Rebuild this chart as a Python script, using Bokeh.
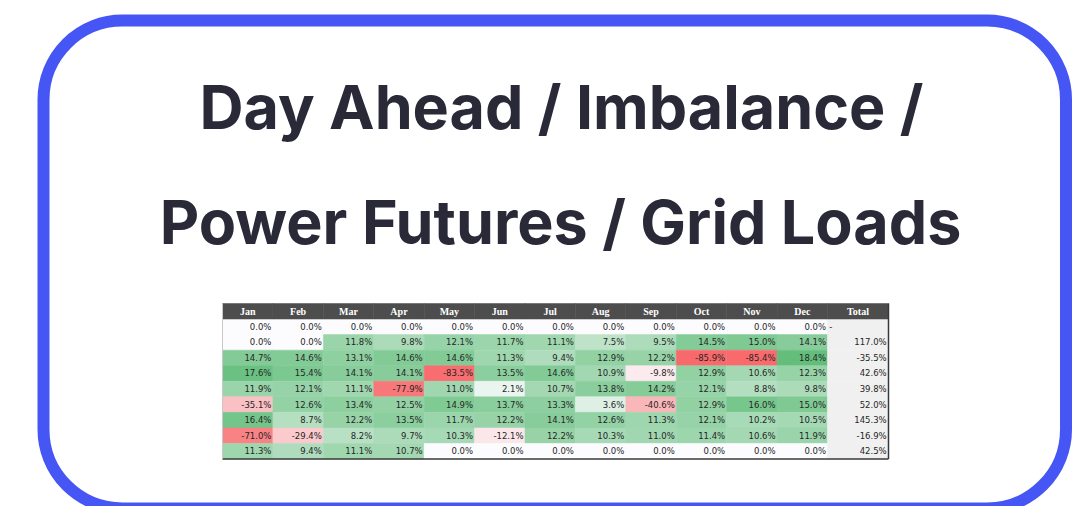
from bokeh.plotting import figure
from bokeh.models import Range1d, ColumnDataSource, BoxAnnotation
from bokeh.core.properties import value
from bokeh.embed import file_html
from bokeh.resources import INLINE

# ---------------- data ----------------
title_lines = ["Day Ahead / Imbalance /", "Power Futures / Grid Loads"]
months = ["Jan", "Feb", "Mar", "Apr", "May", "Jun", "Jul", "Aug", "Sep", "Oct", "Nov", "Dec"]
total_label = "Total"

r1 = [0.0, 0.0, 0.0, 0.0, 0.0, 0.0, 0.0, 0.0, 0.0, 0.0, 0.0, 0.0]
r2 = [0.0, 0.0, 11.8, 9.8, 12.1, 11.7, 11.1, 7.5, 9.5, 14.5, 15.0, 14.1]
r3 = [14.7, 14.6, 13.1, 14.6, 14.6, 11.3, 9.4, 12.9, 12.2, -85.9, -85.4, 18.4]
r4 = [17.6, 15.4, 14.1, 14.1, -83.5, 13.5, 14.6, 10.9, -9.8, 12.9, 10.6, 12.3]
r5 = [11.9, 12.1, 11.1, -77.9, 11.0, 2.1, 10.7, 13.8, 14.2, 12.1, 8.8, 9.8]
r6 = [-35.1, 12.6, 13.4, 12.5, 14.9, 13.7, 13.3, 3.6, -40.6, 12.9, 16.0, 15.0]
r7 = [16.4, 8.7, 12.2, 13.5, 11.7, 12.2, 14.1, 12.6, 11.3, 12.1, 10.2, 10.5]
r8 = [-71.0, -29.4, 8.2, 9.7, 10.3, -12.1, 12.2, 10.3, 11.0, 11.4, 10.6, 11.9]
r9 = [11.3, 9.4, 11.1, 10.7, 0.0, 0.0, 0.0, 0.0, 0.0, 0.0, 0.0, 0.0]
monthly = [r1, r2, r3, r4, r5, r6, r7, r8, r9]
totals = [None, 117.0, -35.5, 42.6, 39.8, 52.0, 145.3, -16.9, 42.5]

# ---------------- styling ----------------
W, H = 1092, 506
FRAME_COLOR = "#4656F5"
TITLE_COLOR = "#2a2937"
HEADER_BG = "#4d4d4d"
TOTAL_BG = "#f0f0f0"
TEXT_COLOR = "#262626"

# layout (figure pixel space, y grows downward)
TBL_LEFT, TBL_SPLIT, TBL_RIGHT = 222, 827, 888
TBL_TOP, TBL_BOTTOM = 303, 458.5


def scale_color(v, lo, hi):
    white = (252, 252, 255)
    red = (248, 105, 107)
    green = (99, 190, 123)
    if v >= 0:
        t, c = (v / hi if hi else 0), green
    else:
        t, c = v / lo, red
    rgb = [round(w + (cc - w) * t) for w, cc in zip(white, c)]
    return "#%02x%02x%02x" % tuple(rgb)


all_vals = [v for r in monthly for v in r]
lo, hi = min(all_vals), max(all_vals)

p = figure(width=W, height=H, x_range=Range1d(0, W), y_range=Range1d(H, 0),
           output_backend="svg", toolbar_location=None, min_border=0,
           background_fill_color="white", border_fill_color="white")
p.axis.visible = False
p.grid.visible = False
p.outline_line_color = None

# rounded frame
p.add_layout(BoxAnnotation(left=43, right=1065.5, top=20, bottom=508,
                           fill_alpha=0, line_color=FRAME_COLOR, line_alpha=1.0,
                           line_width=12, border_radius=79))

# title
p.text(x=[561, 560], y=[106, 221], text=title_lines,
       text_font=value("Inter"), text_font_style="bold", text_font_size="61px",
       text_color=TITLE_COLOR, text_align="center", text_baseline="alphabetic")

# table sub-coordinates: column index / row index (row 0 = header)
n_rows = len(monthly) + 1
sub_m = p.subplot(x_source=Range1d(0, len(months)), y_source=Range1d(0, n_rows),
                  x_target=Range1d(TBL_LEFT, TBL_SPLIT), y_target=Range1d(TBL_TOP, TBL_BOTTOM))
sub_t = p.subplot(x_source=Range1d(0, 1), y_source=Range1d(0, n_rows),
                  x_target=Range1d(TBL_SPLIT, TBL_RIGHT), y_target=Range1d(TBL_TOP, TBL_BOTTOM))

# month cells
xs, ys, xr, cols, labels = [], [], [], [], []
for ri, vals in enumerate(monthly, start=1):
    for ci, v in enumerate(vals):
        xs.append(ci + 0.5)
        xr.append(ci + 0.97)
        ys.append(ri + 0.5)
        cols.append(scale_color(v, lo, hi))
        labels.append(f"{v:.1f}%")
cell_src = ColumnDataSource(dict(x=xs, xr=xr, y=ys, color=cols, label=labels))
sub_m.rect(x="x", y="y", width=1.0, height=1.0, source=cell_src,
           fill_color="color", line_color="color", line_width=0.5)
sub_m.text(x="xr", y="y", text="label", source=cell_src,
           text_font=value("DejaVu Sans"), text_font_size="8.5px", text_color=TEXT_COLOR,
           text_align="right", text_baseline="middle")

# total cells
t_rows = [r + 0.5 for r in range(1, n_rows)]
sub_t.rect(x=0.5, y=t_rows, width=1.0, height=1.0,
           fill_color=TOTAL_BG, line_color=TOTAL_BG, line_width=0.5)
tot_rows = [r for r, t in zip(t_rows, totals) if t is not None]
tot_lbls = [f"{t:.1f}%" for t in totals if t is not None]
sub_t.text(x=0.97, y=tot_rows, text=tot_lbls,
           text_font=value("DejaVu Sans"), text_font_size="8.5px", text_color=TEXT_COLOR,
           text_align="right", text_baseline="middle")
dash_rows = [r for r, t in zip(t_rows, totals) if t is None]
sub_t.text(x=0.03, y=dash_rows, text=["-"] * len(dash_rows),
           text_font=value("DejaVu Sans"), text_font_size="8.5px", text_color=TEXT_COLOR,
           text_align="left", text_baseline="middle")

# header
mc = [i + 0.5 for i in range(len(months))]
sub_m.rect(x=mc, y=0.5, width=1.0, height=1.0,
           fill_color=HEADER_BG, line_color=HEADER_BG, line_width=0.5)
sub_m.text(x=mc, y=0.5, text=months,
           text_font=value("Liberation Serif"), text_font_style="bold", text_font_size="10px",
           text_color="white", text_align="center", text_baseline="middle")
sub_t.rect(x=[0.5], y=[0.5], width=1.0, height=1.0,
           fill_color=HEADER_BG, line_color=HEADER_BG, line_width=0.5)
sub_t.text(x=[0.5], y=[0.5], text=[total_label],
           text_font=value("Liberation Serif"), text_font_style="bold", text_font_size="10px",
           text_color="white", text_align="center", text_baseline="middle")

# table borders
p.segment(x0=[TBL_LEFT, TBL_RIGHT], y0=[TBL_BOTTOM, TBL_TOP],
          x1=[TBL_RIGHT, TBL_RIGHT], y1=[TBL_BOTTOM, TBL_BOTTOM],
          line_color="#3a3a3a", line_width=1.5)
p.segment(x0=[TBL_LEFT], y0=[TBL_TOP], x1=[TBL_LEFT], y1=[TBL_BOTTOM],
          line_color="#c8c8c8", line_width=1)

open("out.html", "w").write(file_html(p, INLINE))
